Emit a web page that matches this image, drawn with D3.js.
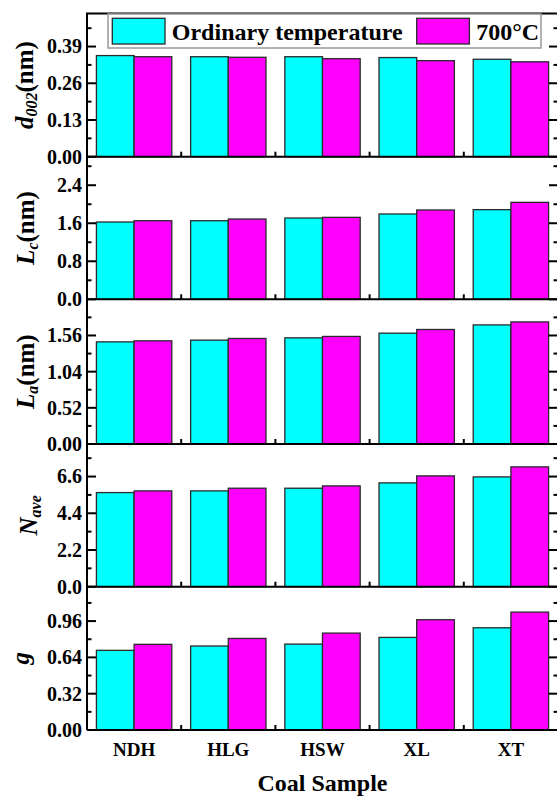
<!DOCTYPE html>
<html>
<head>
<meta charset="utf-8">
<script src="https://cdn.jsdelivr.net/npm/d3@7"></script>
<style>
  html, body { margin: 0; padding: 0; background: #fff; }
  svg { display: block; }
</style>
</head>
<body>
<svg id="chart" width="557" height="796"></svg>
<script>
// Coal samples and the two heating conditions
const samples = ["NDH", "HLG", "HSW", "XL", "XT"];
const seriesNames = ["Ordinary temperature", "700°C"];
const seriesColors = ["#00ffff", "#ff00ff"];

// Crystallite parameters, [ordinary, 700°C] per sample
const d002 = [[0.358, 0.354], [0.354, 0.352], [0.354, 0.347], [0.351, 0.340], [0.345, 0.336]];
const Lc   = [[1.626, 1.653], [1.653, 1.689], [1.710, 1.724], [1.795, 1.879], [1.886, 2.040]];
const La   = [[1.468, 1.483], [1.493, 1.517], [1.526, 1.546], [1.593, 1.646], [1.712, 1.755]];
const Nave = [[5.64, 5.74], [5.74, 5.90], [5.90, 6.04], [6.22, 6.64], [6.58, 7.18]];
const gDeg = [[0.702, 0.755], [0.740, 0.807], [0.757, 0.854], [0.816, 0.972], [0.901, 1.039]];

// Tick labels per panel
const d002Ticks = [0.00, 0.13, 0.26, 0.39];
const LcTicks   = [0.0, 0.8, 1.6, 2.4];
const LaTicks   = [0.00, 0.52, 1.04, 1.56];
const NaveTicks = [0.0, 2.2, 4.4, 6.6];
const gTicks    = [0.00, 0.32, 0.64, 0.96];

const FONT = '"Liberation Serif", "Times New Roman", serif';

const panels = [
  { data: d002, ticks: d002Ticks, max: 0.507, fmt: ".2f", title: [["d", ""], ["002", "sub"], ["(nm)", "up"]], titleX: 33 },
  { data: Lc,   ticks: LcTicks,   max: 3.0,   fmt: ".1f", title: [["L", ""], ["c", "sub"], ["(nm)", "up"]], titleX: 34 },
  { data: La,   ticks: LaTicks,   max: 2.08,  fmt: ".2f", title: [["L", ""], ["a", "sub"], ["(nm)", "up"]], titleX: 34 },
  { data: Nave, ticks: NaveTicks, max: 8.55,  fmt: ".1f", title: [["N", ""], ["ave", "sub"]], titleX: 37 },
  { data: gDeg, ticks: gTicks,    max: 1.263, fmt: ".2f", title: [["g", ""]], titleX: 29 }
];

const svg = d3.select("#chart");
const left = 87, right = 558;
const bounds = [13.5, 156.7, 299.3, 444, 586.7, 730];

function styleText(sel, size) {
  return sel.style("font-family", FONT).style("font-weight", "bold").attr("font-size", size).attr("fill", "#000");
}

const x = d3.scaleBand().domain(samples).range([left, right]).paddingInner(0.2).paddingOuter(0.1);
const xs = d3.scaleBand().domain([0, 1]).range([0, x.bandwidth()]);
const step = x.step();
// group boundaries used for the category ticks
const boundaries = samples.slice(1).map(s => x(s) - (step - x.bandwidth()) / 2);

panels.forEach((p, i) => {
  const top = bounds[i], bottom = bounds[i + 1];
  const y = d3.scaleLinear().domain([0, p.max]).range([bottom, top]);
  const g = svg.append("g");

  // bars
  p.data.forEach((pair, si) => {
    pair.forEach((v, k) => {
      g.append("rect")
        .attr("x", x(samples[si]) + xs(k))
        .attr("y", y(v))
        .attr("width", xs.bandwidth())
        .attr("height", y(0) - y(v))
        .attr("fill", seriesColors[k])
        .attr("stroke", "#2a2a2a")
        .attr("stroke-width", 1.3);
    });
  });

  // tick labels from the axis generator
  const majorStep = p.ticks[1] - p.ticks[0];
  const minor = d3.range(majorStep / 2, p.max, majorStep);
  const yAxisL = d3.axisLeft(y).tickValues(p.ticks).tickSize(0).tickPadding(5).tickFormat(d3.format(p.fmt));
  const axL = g.append("g").attr("transform", `translate(${left},0)`).call(yAxisL);
  axL.select(".domain").remove();
  styleText(axL.selectAll("text"), 20);

  // major and minor ticks, inward on left and right
  const tickLines = g.append("g").attr("stroke", "#000").attr("stroke-width", 2);
  p.ticks.forEach(v => {
    tickLines.append("line").attr("x1", left).attr("x2", left + 9).attr("y1", y(v)).attr("y2", y(v));
    tickLines.append("line").attr("x1", right).attr("x2", right - 9).attr("y1", y(v)).attr("y2", y(v));
  });
  minor.forEach(v => {
    tickLines.append("line").attr("x1", left).attr("x2", left + 4.5).attr("y1", y(v)).attr("y2", y(v));
    tickLines.append("line").attr("x1", right).attr("x2", right - 4.5).attr("y1", y(v)).attr("y2", y(v));
  });
  boundaries.forEach(bx => {
    tickLines.append("line").attr("x1", bx).attr("x2", bx).attr("y1", bottom).attr("y2", bottom - 5);
  });

  // bottom axis line of the panel
  g.append("line").attr("x1", left).attr("x2", right).attr("y1", bottom).attr("y2", bottom)
    .attr("stroke", "#000").attr("stroke-width", 2);

  // y title
  const cy = (top + bottom) / 2;
  const t = styleText(g.append("text"), 25)
    .attr("transform", `translate(${p.titleX},${cy}) rotate(-90)`)
    .attr("text-anchor", "middle");
  p.title.forEach(([str, kind]) => {
    const ts = t.append("tspan").text(str);
    if (kind === "") ts.style("font-style", "italic");
    if (kind === "sub") ts.style("font-style", "italic").attr("font-size", 16).attr("dy", 4);
    if (kind === "up") ts.attr("dy", -4);
  });
});

// frame: left axis, top and right edges
svg.append("line").attr("x1", left).attr("x2", left).attr("y1", bounds[0]).attr("y2", bounds[5])
  .attr("stroke", "#000").attr("stroke-width", 2);
svg.append("line").attr("x1", right).attr("x2", right).attr("y1", bounds[0]).attr("y2", bounds[5])
  .attr("stroke", "#000").attr("stroke-width", 2);
svg.append("line").attr("x1", left - 1).attr("x2", right).attr("y1", bounds[0]).attr("y2", bounds[0])
  .attr("stroke", "#000").attr("stroke-width", 2);

// category labels
styleText(svg.append("g").selectAll("text").data(samples).join("text"), 19)
  .attr("x", d => x(d) + x.bandwidth() / 2)
  .attr("y", 756)
  .attr("text-anchor", "middle")
  .text(d => d);

styleText(svg.append("text"), 24)
  .attr("x", (left + right) / 2)
  .attr("y", 791)
  .attr("text-anchor", "middle")
  .text("Coal Sample");

// legend
const lg = svg.append("g");
lg.append("rect").attr("x", 108).attr("y", 14).attr("width", 433).attr("height", 34)
  .attr("fill", "#fff").attr("stroke", "#999").attr("stroke-width", 1.5);
const legendX = [112.3, 416.7];
seriesNames.forEach((name, k) => {
  lg.append("rect").attr("x", legendX[k]).attr("y", 18.3).attr("width", 52.7).attr("height", 25.7)
    .attr("fill", seriesColors[k]).attr("stroke", "#2a2a2a").attr("stroke-width", 1.3);
  styleText(lg.append("text"), 24).attr("x", legendX[k] + 59.5).attr("y", 39.5).text(name);
});
</script>
</body>
</html>
